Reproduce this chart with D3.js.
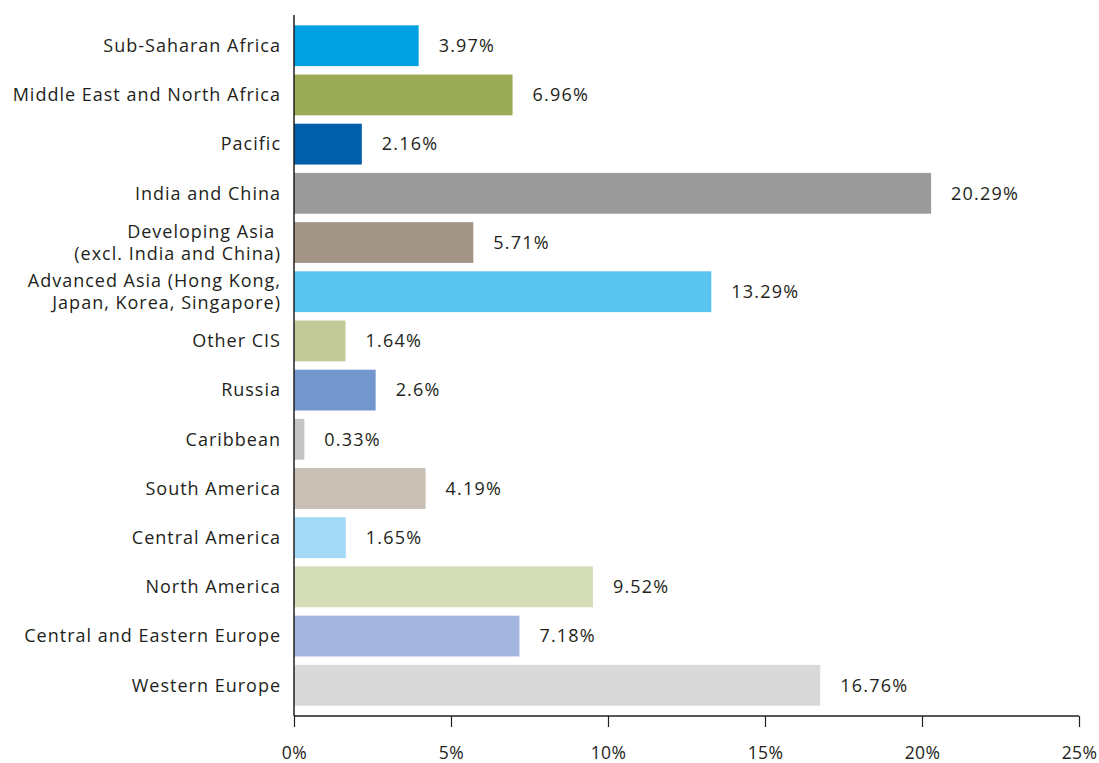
<!DOCTYPE html>
<html>
<head>
<meta charset="utf-8">
<script src="https://cdn.jsdelivr.net/npm/d3@7"></script>
<style>
  html, body { margin: 0; padding: 0; background: #fff; }
  svg { display: block; }
  text { font-family: "Open Sans", "Noto Sans", sans-serif; fill: #231f20; }
</style>
</head>
<body>
<svg id="chart" width="1099" height="763"></svg>
<script>
const categories = [
  ["Sub-Saharan Africa"],
  ["Middle East and North Africa"],
  ["Pacific"],
  ["India and China"],
  ["Developing Asia\u00a0", "(excl. India and China)"],
  ["Advanced Asia (Hong Kong,", "Japan, Korea, Singapore)"],
  ["Other CIS"],
  ["Russia"],
  ["Caribbean"],
  ["South America"],
  ["Central America"],
  ["North America"],
  ["Central and Eastern Europe"],
  ["Western Europe"]
];
const values = [3.97, 6.96, 2.16, 20.29, 5.71, 13.29, 1.64, 2.6, 0.33, 4.19, 1.65, 9.52, 7.18, 16.76];
const valueLabels = ["3.97%", "6.96%", "2.16%", "20.29%", "5.71%", "13.29%", "1.64%", "2.6%", "0.33%", "4.19%", "1.65%", "9.52%", "7.18%", "16.76%"];
const colors = ["#00a0e1", "#9aaa55", "#005eaa", "#9b9b9b", "#a39585", "#5bc5f1", "#c2ca98", "#7396cd", "#c4c4c4", "#c8bfb5", "#a2d9f7", "#d4dcb8", "#a5b6de", "#d9d9d9"];
const xTicks = [0, 5, 10, 15, 20, 25];

const svg = d3.select("#chart");
const x0 = 294, x1 = 1079, yTop = 15, yBottom = 716;

const x = d3.scaleLinear().domain([0, 25]).range([x0, x1]);
const ids = categories.map((c, i) => i);
const y = d3.scaleBand().domain(ids).range([yTop, yBottom]).paddingInner(0.17).paddingOuter(0.21);

// bars
svg.append("g").selectAll("rect").data(ids).join("rect")
  .attr("x", x(0))
  .attr("y", i => y(i))
  .attr("width", i => x(values[i]) - x(0))
  .attr("height", y.bandwidth())
  .attr("fill", i => colors[i]);

// value labels
svg.append("g").selectAll("text").data(ids).join("text")
  .attr("x", i => x(values[i]) + 20)
  .attr("y", i => y(i) + y.bandwidth() / 2)
  .attr("dy", "0.35em")
  .attr("font-size", 18)
  .attr("letter-spacing", "1.2px")
  .text(i => valueLabels[i]);

// category labels
const lab = svg.append("g").selectAll("text").data(ids).join("text")
  .attr("text-anchor", "end")
  .attr("font-size", 18)
  .attr("letter-spacing", "1px")
  .attr("y", i => y(i) + y.bandwidth() / 2);
lab.each(function(i) {
  const lines = categories[i];
  const t = d3.select(this);
  const lh = 22.5;
  lines.forEach((ln, k) => {
    t.append("tspan")
      .attr("x", 281)
      .attr("y", y(i) + y.bandwidth() / 2 + (k - (lines.length - 1) / 2) * lh)
      .attr("dy", "0.35em")
      .text(ln);
  });
});

// x axis
const xAxis = d3.axisBottom(x).tickValues(xTicks).tickFormat(d => d + "%").tickSize(11).tickPadding(20);
const gx = svg.append("g").attr("transform", `translate(0,${yBottom})`).call(xAxis);
gx.select(".domain").attr("stroke", "#231f20").attr("stroke-width", 1.5).attr("d", `M${x0},0H${x1}`);
gx.selectAll(".tick line").attr("stroke", "#231f20").attr("stroke-width", 1.2);
gx.selectAll(".tick text").attr("font-size", 17.5).attr("letter-spacing", "0.4px").attr("font-family", '"Open Sans", sans-serif').attr("fill", "#231f20");

// y axis line
const yAxis = d3.axisLeft(y).tickValues([]).tickSize(0);
const gy = svg.append("g").attr("transform", `translate(${x0},0)`).call(yAxis);
gy.select(".domain").attr("stroke", "#231f20").attr("stroke-width", 1.5).attr("d", `M0,${yTop}V${yBottom}`);
</script>
</body>
</html>
